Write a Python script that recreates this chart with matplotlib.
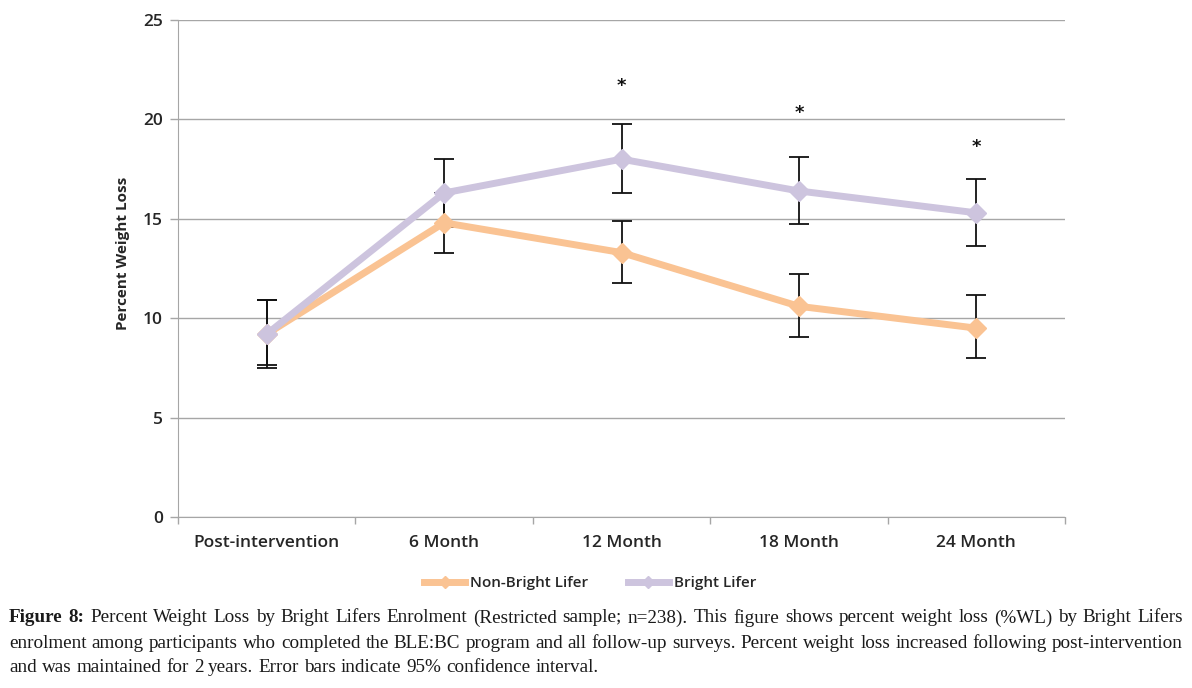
import numpy as np
import matplotlib.pyplot as plt
from matplotlib.lines import Line2D

categories = ['Post-intervention', '6 Month', '12 Month', '18 Month', '24 Month']

non_bl = [9.2, 14.8, 13.3, 10.6, 9.5]
non_bl_lo = [1.55, 1.5, 1.55, 1.55, 1.5]
non_bl_hi = [1.7, 1.5, 1.6, 1.6, 1.65]

bl = [9.2, 16.3, 18.0, 16.4, 15.3]
bl_lo = [1.7, 1.7, 1.7, 1.65, 1.65]
bl_hi = [1.7, 1.7, 1.75, 1.7, 1.7]

star_idx = [2, 3, 4]
star_y = [21.7, 20.3, 18.6]

c_orange = '#FAC393'
c_lav = '#CDC4DE'
grid_c = '#A6A6A6'
txt_c = '#262626'

fig = plt.figure(figsize=(11.92, 6.88), dpi=100)
ax = fig.add_axes([178/1192, 1-517/688, 887/1192, 497/688])

x = np.arange(len(categories))

ax.errorbar(x, non_bl, yerr=[non_bl_lo, non_bl_hi], fmt='none', ecolor='#111111',
            elinewidth=1.3, capsize=7, capthick=1.3, zorder=3)
ax.errorbar(x, bl, yerr=[bl_lo, bl_hi], fmt='none', ecolor='#111111',
            elinewidth=1.3, capsize=7, capthick=1.3, zorder=3)
ax.plot(x, non_bl, color=c_orange, lw=5, marker='D', markersize=10,
        markerfacecolor=c_orange, markeredgecolor=c_orange, zorder=4, solid_capstyle='round')
ax.plot(x, bl, color=c_lav, lw=5, marker='D', markersize=10,
        markerfacecolor=c_lav, markeredgecolor=c_lav, zorder=5, solid_capstyle='round')

for i, sy in zip(star_idx, star_y):
    ax.text(x[i], sy, '*', ha='center', va='center', fontsize=13, weight='bold', color='#111111')

ax.set_xlim(-0.5, len(categories) - 0.5)
ax.set_ylim(0, 25)
ax.set_yticks(np.arange(0, 26, 5))
ax.set_xticks(x)
ax.set_xticklabels(categories, fontsize=12.5, family='Open Sans', weight='semibold', color=txt_c)
ax.set_xticks(np.arange(-0.5, len(categories), 1), minor=True)
ax.tick_params(axis='x', which='major', length=0, pad=13)
ax.tick_params(axis='x', which='minor', length=5, color=grid_c, width=1)
ax.tick_params(axis='y', length=6, color=grid_c, width=1, pad=5, labelsize=12.5)
for lab in ax.get_yticklabels():
    lab.set_family('Open Sans')
    lab.set_weight('semibold')
    lab.set_color(txt_c)

ax.grid(axis='y', color=grid_c, lw=1)
ax.set_axisbelow(True)
for s in ['top', 'right']:
    ax.spines[s].set_visible(False)
ax.spines['left'].set_color(grid_c)
ax.spines['bottom'].set_color(grid_c)

ax.set_ylabel('Percent Weight Loss', fontsize=11, family='Open Sans', weight='bold',
              color=txt_c)
ax.yaxis.set_label_coords(-48/887, 0.53)

handles = [Line2D([], [], color=c_orange, lw=5, marker='D', markersize=6),
           Line2D([], [], color=c_lav, lw=5, marker='D', markersize=6)]
fig.legend(handles, ['Non-Bright Lifer', 'Bright Lifer'], loc='center',
           bbox_to_anchor=(590/1192, 1-583/688), ncol=2, frameon=False,
           prop={'family': 'Open Sans', 'size': 11, 'weight': 'semibold'}, handlelength=2.7,
           handletextpad=0.3, columnspacing=2.6, labelcolor=txt_c)

# caption, justified by hand
cap_lines = [
    [('Figure', True), ('8:', True)] + [(w, False) for w in
        'Percent Weight Loss by Bright Lifers Enrolment (Restricted sample; n=238). This figure shows percent weight loss (%WL) by Bright Lifers'.split()],
    [(w, False) for w in
        'enrolment among participants who completed the BLE:BC program and all follow-up surveys. Percent weight loss increased following post-intervention'.split()],
    [(w, False) for w in
        'and was maintained for 2 years. Error bars indicate 95% confidence interval.'.split()],
]
cap_y = [618, 643, 667]
x0, x1 = 9, 1183
renderer = fig.canvas.get_renderer()
for k, (words, yp) in enumerate(zip(cap_lines, cap_y)):
    texts = [fig.text(0, 1 - yp/688, w, fontsize=13.8, family='Liberation Serif',
                      weight='bold' if b else 'normal', va='center', color='#1a1a1a')
             for w, b in words]
    widths = [t.get_window_extent(renderer).width for t in texts]
    if k < len(cap_lines) - 1:
        gap = (x1 - x0 - sum(widths)) / (len(words) - 1)
    else:
        gap = 5
    pos = x0
    for t, w in zip(texts, widths):
        t.set_x(pos/1192)
        pos += w + gap

fig.savefig('out.png', dpi=100)
